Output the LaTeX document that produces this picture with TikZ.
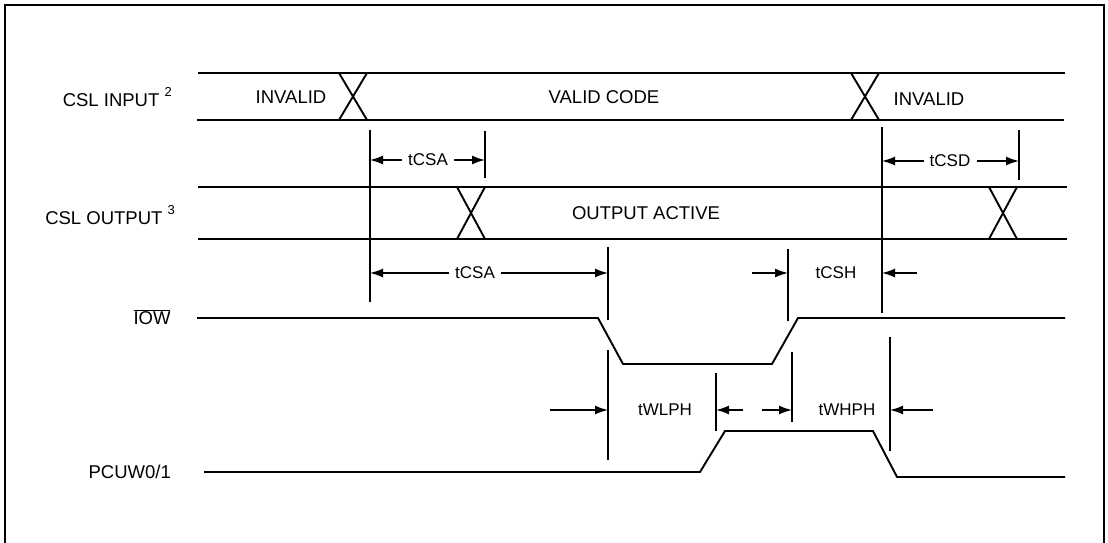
\documentclass[tikz,border=0pt]{standalone}
\usepackage{fontspec}
\setmainfont{Liberation Sans}
\usetikzlibrary{arrows.meta}

\tikzset{
  sig/.style={line width=1.9pt},
  tick/.style={line width=1.5pt},
  dim/.style={line width=1.5pt,-{Latex[length=13pt,width=9pt]}},
  lbl/.style={font=\fontsize{18.5}{20}\selectfont,inner sep=0pt},
  tlbl/.style={font=\fontsize{17}{19}\selectfont,fill=white,inner sep=6pt},
}
% X where a bus changes value
\newcommand{\buscross}[3]{\draw[sig] ({#1-14},#2) -- ({#1+14},#3) ({#1-14},#3) -- ({#1+14},#2);}
\newcommand{\noteidx}[1]{\raisebox{1.1ex}{\fontsize{13}{13}\selectfont #1}}

\begin{document}
\begin{tikzpicture}[x=1pt,y=-1pt]
\useasboundingbox (0,0) rectangle (1108,543);
% frame
\draw[line width=2.6pt] (5,560) -- (5,5) -- (1104,5) -- (1104,560);

% signal names
\node[lbl,anchor=east] (cslin) at (172,97) {CSL INPUT \noteidx{2}};
\node[lbl,anchor=east] (cslout) at (175,215) {CSL OUTPUT \noteidx{3}};
\node[lbl] (iow) at (152,317) {$\overline{\mbox{IOW}}$};
\node[lbl,anchor=east] (pcuw) at (171,472) {PCUW0/1};

% CSL input bus
\draw[sig] (198,73) -- (1065,73);
\draw[sig] (197,120) -- (1064,120);
\buscross{353}{73}{120}
\buscross{865}{73}{120}
\node[lbl] (inv1) at (291,97) {INVALID};
\node[lbl] (valid) at (604,97) {VALID CODE};
\node[lbl] (inv2) at (929,99) {INVALID};

% CSL output bus
\draw[sig] (198,187) -- (1067,187);
\draw[sig] (198,239) -- (1067,239);
\buscross{471}{187}{239}
\buscross{1003}{187}{239}
\node[lbl] (active) at (646,213) {OUTPUT ACTIVE};

% IOW
\draw[sig] (197,318) -- (598,318) -- (623,364) -- (772,364) -- (798,318) -- (1065,318);
% PCUW0/1
\draw[sig] (204,472) -- (700,472) -- (725,431) -- (873,431) -- (897,477) -- (1065,477);

% reference lines
\coordinate (a1) at (370,130);  \coordinate (a2) at (370,302);
\coordinate (b1) at (485,131);  \coordinate (b2) at (485,178);
\coordinate (d1) at (882,127);  \coordinate (d2) at (882,313);
\coordinate (e1) at (1019,130); \coordinate (e2) at (1019,180);
\coordinate (f1) at (608,247);  \coordinate (f2) at (608,320);
\coordinate (g1) at (788,249);  \coordinate (g2) at (788,321);
\coordinate (h1) at (608,350);  \coordinate (h2) at (608,460);
\coordinate (k1) at (716,373);  \coordinate (k2) at (716,431);
\coordinate (m1) at (792,352);  \coordinate (m2) at (792,422);
\coordinate (n1) at (890,337);  \coordinate (n2) at (890,451);
\foreach \v in {a,b,d,e,f,g,h,k,m,n}
  \draw[tick] (\v1) -- (\v2);

% timing labels
\node[tlbl] (tcsa1) at (428,160) {tCSA};
\node[tlbl] (tcsd) at (950,161) {tCSD};
\node[tlbl] (tcsa2) at (475,273) {tCSA};
\node[tlbl] (tcsh) at (836,273) {tCSH};
\node[tlbl] (twlph) at (665,410) {tWLPH};
\node[tlbl] (twhph) at (847,410) {tWHPH};

\draw[dim] (tcsa1.west) -- (a1 |- tcsa1);
\draw[dim] (tcsa1.east) -- (b1 |- tcsa1);
\draw[dim] (tcsd.west) -- (d1 |- tcsd);
\draw[dim] (tcsd.east) -- (e1 |- tcsd);
\draw[dim] (tcsa2.west) -- (a1 |- tcsa2);
\draw[dim] (tcsa2.east) -- (f1 |- tcsa2);

\coordinate (csh-l) at (752,273);
\coordinate (csh-r) at (917,273);
\draw[dim] (csh-l) -- (g1 |- tcsh);
\draw[dim] (csh-r) -- (d1 |- tcsh);

\coordinate (wl-l) at (550,410);
\coordinate (wl-r) at (743,410);
\draw[dim] (wl-l) -- (h1 |- twlph);
\draw[dim] (wl-r) -- (k1 |- twlph);

\coordinate (wh-l) at (762,410);
\coordinate (wh-r) at (933,410);
\draw[dim] (wh-l) -- (m1 |- twhph);
\draw[dim] (wh-r) -- (n1 |- twhph);
\end{tikzpicture}
\end{document}
